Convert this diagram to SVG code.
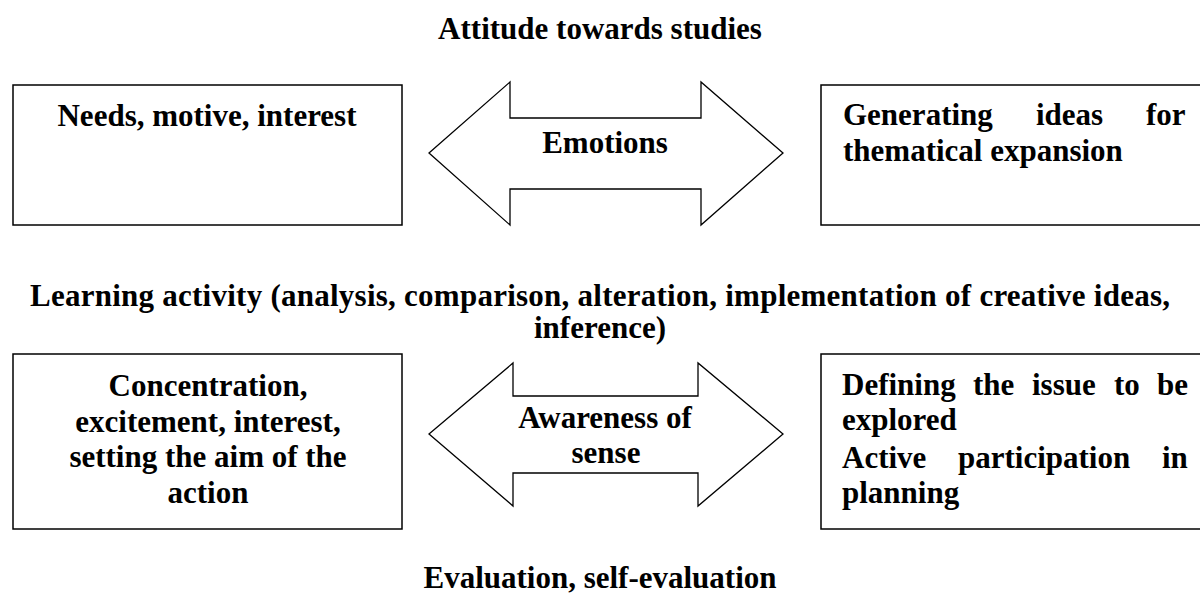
<svg xmlns="http://www.w3.org/2000/svg" width="1200" height="594" viewBox="0 0 1200 594">
<style>
text{font-family:"Liberation Serif","Times New Roman",serif;font-weight:bold;font-size:31px;fill:#000}
.c{text-anchor:middle}
.box{fill:#fff;stroke:#000;stroke-width:1.5}
.arr{fill:#fff;stroke:#000;stroke-width:1.3;stroke-linejoin:miter}
</style>
<rect width="1200" height="594" fill="#fff"/>
<g id="title-top"><text class="c" x="600" y="39">Attitude towards studies</text></g>
<g id="title-mid"><text class="c" x="600" y="306" textLength="1140" lengthAdjust="spacing">Learning activity (analysis, comparison, alteration, implementation of creative ideas,</text><text class="c" x="600" y="338">inference)</text></g>
<g id="title-bottom"><text class="c" x="600" y="588">Evaluation, self-evaluation</text></g>
<g id="node-needs"><rect class="box" x="13" y="85" width="389" height="140"/><text class="c" x="207" y="126">Needs, motive, interest</text></g>
<g id="node-generating"><rect class="box" x="821" y="85" width="400" height="140"/><text y="125"><tspan x="843">Generating</tspan><tspan x="1036">ideas</tspan><tspan x="1146">for</tspan></text><text x="843" y="161">thematical expansion</text></g>
<g id="node-concentration"><rect class="box" x="13" y="354" width="389" height="175"/><text class="c" x="208" y="396">Concentration,</text><text class="c" x="208" y="432">excitement, interest,</text><text class="c" x="208" y="467">setting the aim of the</text><text class="c" x="208" y="503">action</text></g>
<g id="node-defining"><rect class="box" x="821" y="354" width="400" height="175"/><text y="395"><tspan x="842">Defining</tspan><tspan x="973">the</tspan><tspan x="1032">issue</tspan><tspan x="1114">to</tspan><tspan x="1157">be</tspan></text><text x="842" y="430">explored</text><text y="468"><tspan x="842">Active</tspan><tspan x="958">participation</tspan><tspan x="1162">in</tspan></text><text x="842" y="503">planning</text></g>
<g id="connectors">
<g id="arrow-emotions"><polygon class="arr" points="429,153 510,82 510,118 701,118 701,82 783,153 701,225 701,189 510,189 510,225"/><text class="c" x="605" y="153">Emotions</text></g>
<g id="arrow-awareness"><polygon class="arr" points="429,434 513,363 513,396 698,396 698,363 783,434 698,506 698,473 513,473 513,506"/><text class="c" x="605" y="428">Awareness of</text><text class="c" x="606" y="463">sense</text></g>
</g>
</svg>
